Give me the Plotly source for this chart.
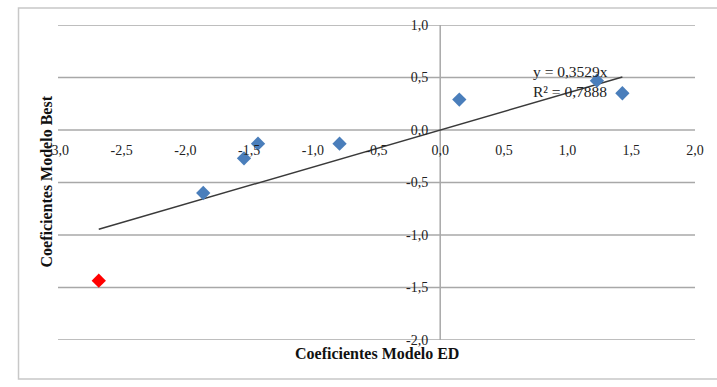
import plotly.graph_objects as go

# Data
blue_x = [-1.86, -1.54, -1.43, -0.79, 0.15, 1.23, 1.43]
blue_y = [-0.60, -0.27, -0.13, -0.13, 0.29, 0.47, 0.35]
red_x = [-2.68]
red_y = [-1.435]
slope = 0.3529
r2 = 0.7888
x_ticks = [-3.0, -2.5, -2.0, -1.5, -1.0, -0.5, 0.0, 0.5, 1.0, 1.5, 2.0]
y_ticks = [-2.0, -1.5, -1.0, -0.5, 0.0, 0.5, 1.0]
x_ticklabels = ["-3,0", "-2,5", "-2,0", "-1,5", "-1,0", "-0,5", "0,0", "0,5", "1,0", "1,5", "2,0"]
y_ticklabels = ["-2,0", "-1,5", "-1,0", "-0,5", "0,0", "0,5", "1,0"]

xr = [-3, 2]
yr = [-2, 1]

all_x = blue_x + red_x
tx = [min(all_x), max(all_x)]
ty = [slope * v for v in tx]

font_fam = "Liberation Serif, Times New Roman, serif"
grid_col = "#a8a8a8"

fig = go.Figure()
fig.add_trace(go.Scatter(x=tx, y=ty, mode="lines",
                         line=dict(color="#3a3a3a", width=1.5),
                         hoverinfo="skip", showlegend=False))
fig.add_trace(go.Scatter(x=blue_x, y=blue_y, mode="markers",
                         marker=dict(symbol="diamond", size=11, color="#4a7ebb"),
                         showlegend=False))
fig.add_trace(go.Scatter(x=red_x, y=red_y, mode="markers",
                         marker=dict(symbol="diamond", size=11, color="#ff0000"),
                         showlegend=False))

xpos = (0 - yr[0]) / (yr[1] - yr[0])
ypos = (0 - xr[0]) / (xr[1] - xr[0])

fig.update_layout(
    width=717, height=387,
    margin=dict(l=57.5, r=22, t=25, b=47),
    paper_bgcolor="white", plot_bgcolor="white",
    font=dict(family=font_fam, size=14, color="#222"),
    xaxis=dict(range=xr, tickvals=x_ticks, ticktext=x_ticklabels,
               showgrid=False, zeroline=False, showline=False,
               anchor="free", position=xpos, ticks="",
               tickfont=dict(size=14, color="#222"), ticklabelstandoff=10,
               domain=[0, 1]),
    yaxis=dict(range=yr, tickvals=y_ticks, ticktext=y_ticklabels,
               showgrid=False, zeroline=False, showline=False,
               anchor="free", position=ypos, ticks="",
               tickfont=dict(size=14, color="#222"), ticklabelstandoff=12,
               domain=[0, 1]),
    showlegend=False,
)

# horizontal gridlines (including the range edges)
for v in y_ticks:
    fig.add_shape(type="line", xref="x", yref="y", x0=xr[0], x1=xr[1], y0=v, y1=v,
                  line=dict(color=grid_col, width=1.5), layer="below")

# vertical axis line at x = 0
fig.add_shape(type="line", xref="x", yref="y", x0=0, x1=0, y0=yr[0], y1=yr[1],
              line=dict(color=grid_col, width=1.5), layer="below")

# outer chart border
fig.add_shape(type="rect", xref="paper", yref="paper",
              x0=-0.062, x1=1.2, y0=-0.124, y1=1.054,
              line=dict(color="#c8c8c8", width=1.5), layer="below")

# axis titles
fig.add_annotation(text="<b>Coeficientes Modelo ED</b>", xref="paper", yref="paper",
                   x=(377 - 57.5) / 637.5, y=(340 - 353) / 315,
                   xanchor="center", yanchor="middle",
                   showarrow=False, font=dict(size=16, color="#111"))
fig.add_annotation(text="<b>Coeficientes Modelo Best</b>", xref="paper", yref="paper",
                   x=(45 - 57.5) / 637.5, y=(340 - 182) / 315, textangle=-90,
                   xanchor="center", yanchor="middle",
                   showarrow=False, font=dict(size=16, color="#111"))

# trendline equation
fig.add_annotation(text=f"y = {str(slope).replace('.', ',')}x<br>R² = {str(r2).replace('.', ',')}",
                   xref="paper", yref="paper",
                   x=(531 - 57.5) / 637.5, y=(340 - 61) / 315,
                   xanchor="left", yanchor="top", align="left",
                   showarrow=False, font=dict(size=15.5, color="#222"))

fig.write_html("out.html")
